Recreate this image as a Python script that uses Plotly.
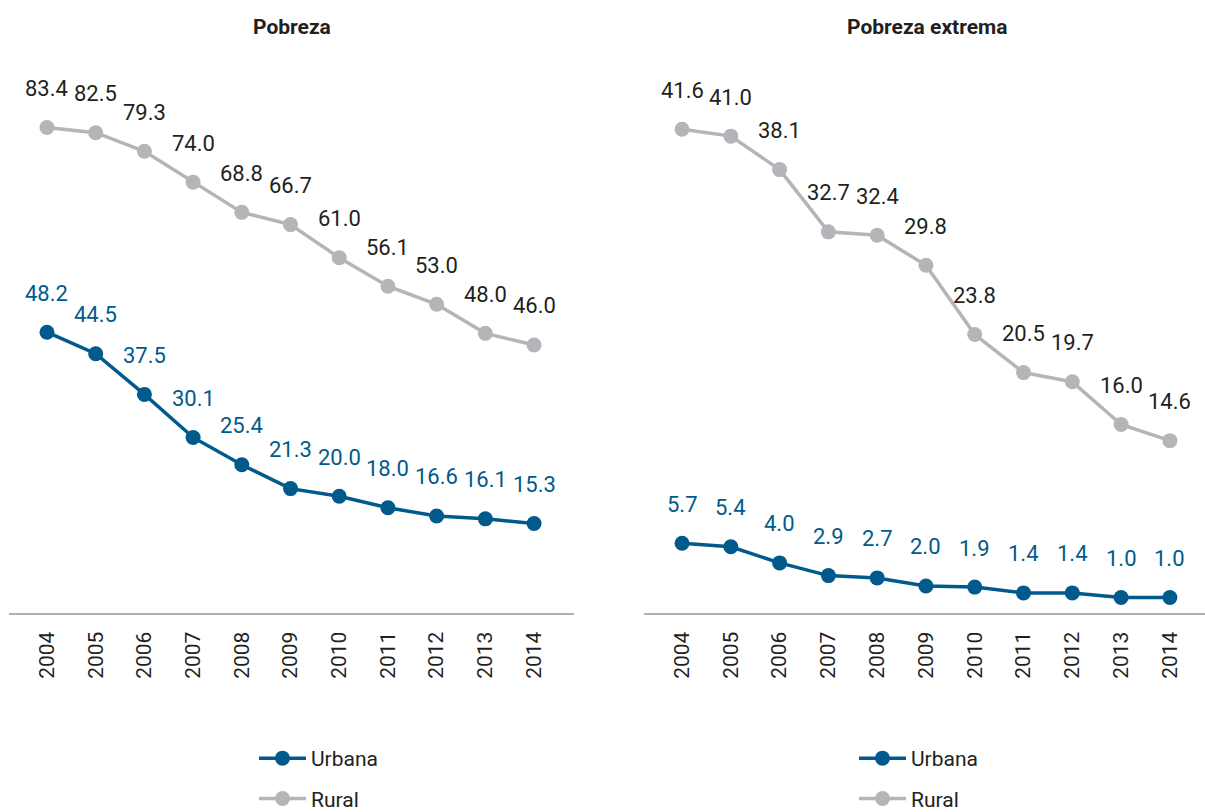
import plotly.graph_objects as go

years = [2004, 2005, 2006, 2007, 2008, 2009, 2010, 2011, 2012, 2013, 2014]
pobreza_urbana = [48.2, 44.5, 37.5, 30.1, 25.4, 21.3, 20.0, 18.0, 16.6, 16.1, 15.3]
pobreza_rural = [83.4, 82.5, 79.3, 74.0, 68.8, 66.7, 61.0, 56.1, 53.0, 48.0, 46.0]
extrema_urbana = [5.7, 5.4, 4.0, 2.9, 2.7, 2.0, 1.9, 1.4, 1.4, 1.0, 1.0]
extrema_rural = [41.6, 41.0, 38.1, 32.7, 32.4, 29.8, 23.8, 20.5, 19.7, 16.0, 14.6]
titles = ["Pobreza", "Pobreza extrema"]
series_names = ["Urbana", "Rural"]

BLUE = "#005a8c"
GRAY = "#b4b5b9"
DARK = "#231f20"
FONT = "Roboto, Liberation Sans, Arial, sans-serif"

W, H = 1205, 812
LABEL_SHIFT = 39

fig = go.Figure()

panels = [
    (pobreza_urbana, pobreza_rural, "x", "y", "legend"),
    (extrema_urbana, extrema_rural, "x2", "y2", "legend2"),
]

annotations = []
for (urb, rur, xa, ya, lg) in panels:
    for name, vals, color, lcolor in [
        (series_names[0], urb, BLUE, BLUE),
        (series_names[1], rur, GRAY, DARK),
    ]:
        fig.add_trace(go.Scatter(
            x=years, y=vals, name=name, mode="lines+markers",
            line=dict(color=color, width=3.5),
            marker=dict(color=color, size=15),
            xaxis=xa, yaxis=ya, legend=lg, legendgroup=name,
            hoverinfo="skip",
        ))
        for xv, yv in zip(years, vals):
            annotations.append(dict(
                x=xv, y=yv, xref=xa, yref=ya, text=f"{yv:.1f}",
                showarrow=False, yshift=LABEL_SHIFT, yanchor="middle",
                xanchor="center",
                font=dict(family=FONT, size=22, color=lcolor),
            ))

# panel titles
for t, cx in zip(titles, [(9 + 574) / 2, (644 + 1210) / 2]):
    annotations.append(dict(x=cx / W, y=1 - 27 / H, xref="paper", yref="paper",
                            text="<b>" + t + "</b>", showarrow=False,
                            xanchor="center", yanchor="middle",
                            font=dict(family=FONT, size=21, color=DARK)))

ydom = [(H - 612.5) / H, (H - 60) / H]

xaxis_common = dict(
    showgrid=False, zeroline=False, showline=True, linecolor="#b0b0b0", linewidth=1.5,
    tickmode="array", tickvals=years, ticktext=[str(y) for y in years],
    tickangle=-90, ticks="", ticklabelstandoff=9,
    tickfont=dict(family=FONT, size=21, color=DARK),
    fixedrange=True, automargin=False,
)
yaxis_common = dict(visible=False, showgrid=False, zeroline=False, fixedrange=True)

legend_common = dict(xanchor="left", yanchor="top", orientation="v", tracegroupgap=10,
                     bgcolor="rgba(0,0,0,0)", itemwidth=47,
                     font=dict(family=FONT, size=21, color=DARK), itemclick=False)

fig.update_layout(
    width=W, height=H,
    margin=dict(l=0, r=0, t=0, b=0, autoexpand=False),
    paper_bgcolor="white", plot_bgcolor="white",
    xaxis=dict(**xaxis_common, anchor="y", domain=[9 / W, 574 / W], range=[2003.22, 2014.82]),
    yaxis=dict(**yaxis_common, domain=ydom, range=[0, 95.0], anchor="x"),
    xaxis2=dict(**xaxis_common, anchor="y2", domain=[644 / W, 1.0], range=[2003.22, 2014.72]),
    yaxis2=dict(**yaxis_common, domain=ydom, range=[-0.3, 47.6], anchor="x2"),
    legend=dict(**legend_common, x=254 / W, y=1 - 738 / H),
    legend2=dict(**legend_common, x=854 / W, y=1 - 738 / H),
    annotations=annotations,
    showlegend=True,
)

post = (
    "document.documentElement.style.margin='0';"
    "document.body.style.margin='0';"
    "document.documentElement.style.overflow='hidden';"
    "document.body.style.overflow='hidden';"
    "document.querySelectorAll('.svg-container').forEach(function(e){e.style.display='block';});"
)

fig.write_html("out.html", config={"displayModeBar": False}, post_script=post)
